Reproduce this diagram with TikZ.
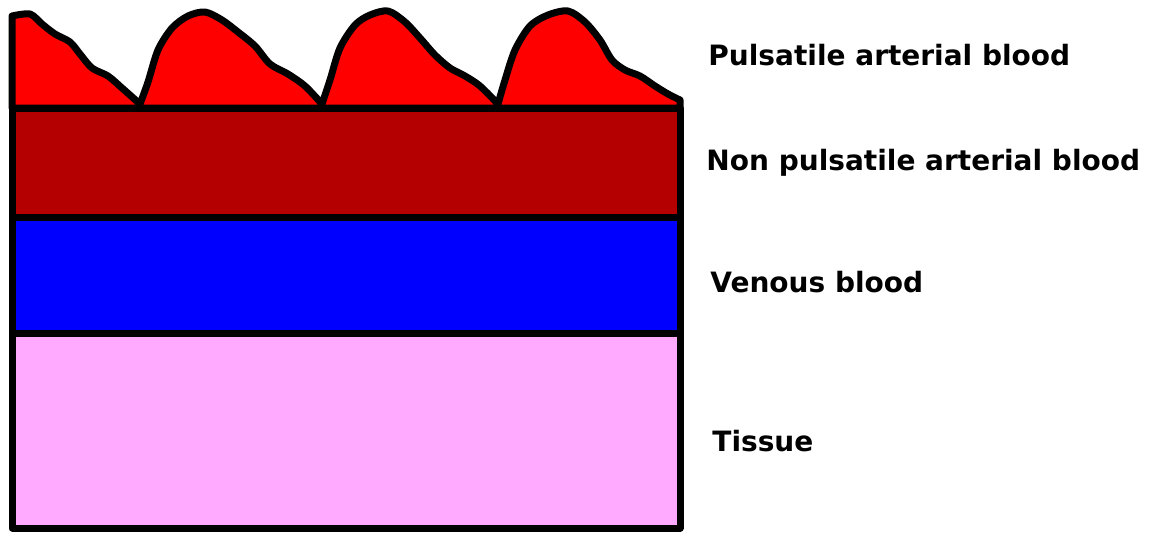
\documentclass[tikz,border=0pt]{standalone}
\usepackage{fontspec}
\setmainfont{DejaVu Sans}
\usetikzlibrary{positioning}
\definecolor{pulsered}{RGB}{255,0,0}
\definecolor{darkred}{RGB}{180,0,0}
\definecolor{venblue}{RGB}{0,0,255}
\definecolor{tissuepink}{RGB}{255,170,255}
\tikzset{
  layer/.style={draw=black, line width=3.5pt, line join=round},
  lbl/.style={anchor=west, inner sep=0pt, font=\bfseries\fontsize{14}{16}\selectfont}
}
\begin{document}
\begin{tikzpicture}[x=0.5pt, y=-0.5pt]
  \useasboundingbox (0,0) rectangle (1154,532);
  % layers
  \filldraw[layer, fill=tissuepink] (12,333) rectangle (680,528);
  \filldraw[layer, fill=venblue] (12,217) rectangle (680,333);
  \filldraw[layer, fill=darkred] (12,108) rectangle (680,217);
  % pulsatile part
  \filldraw[layer, fill=pulsered] (680,108) -- (12,108) -- (12,16)
    -- plot[smooth, tension=0.5] coordinates {(12,16) (30,14) (42,24) (55,34) (70,42) (80,54)
      (92,68) (108,76) (122,88) (140,104)}
    -- plot[smooth, tension=0.5] coordinates {(140,104) (148,82) (158,50) (172,28) (188,16) (205,12)
      (222,20) (238,32) (255,46) (270,64) (288,74) (305,86) (322,104)}
    -- plot[smooth, tension=0.5] coordinates {(322,104) (330,80) (340,48) (355,25) (370,15) (388,11)
      (405,22) (420,38) (435,55) (450,68) (465,76) (480,86) (498,104)}
    -- plot[smooth, tension=0.5] coordinates {(498,104) (505,80) (515,50) (530,26) (548,15) (568,11)
      (585,22) (600,40) (612,60) (625,70) (640,76) (655,86) (668,94) (680,100)}
    -- cycle;
  % labels
  \node[lbl] (pulsatile) at (708,55) {Pulsatile arterial blood};
  \node[lbl] (nonpulsatile) at (706,163) {Non pulsatile arterial blood};
  \node[lbl] (venous) at (710,282) {Venous blood};
  \node[lbl] (tissue) at (712,441) {Tissue};
\end{tikzpicture}
\end{document}
